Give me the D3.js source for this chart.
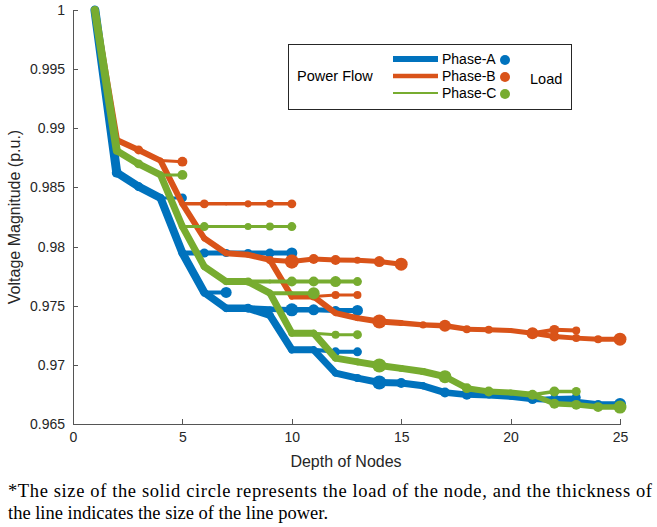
<!DOCTYPE html>
<html>
<head>
<meta charset="utf-8">
<script src="https://cdn.jsdelivr.net/npm/d3@7"></script>
<style>
body { margin: 0; background: #fff; }
</style>
</head>
<body>
<script>
var W = 657, H = 527;

var xTicks = [0, 5, 10, 15, 20, 25];
var yTicks = [0.965, 0.97, 0.975, 0.98, 0.985, 0.99, 0.995, 1];
var phaseNames = ["Phase-A", "Phase-B", "Phase-C"];
var phaseColors = ["#0072BD", "#D95319", "#77AC30"];
var legendPower = [60, 45, 20];

// each branch: d0 = start depth, v = voltage per depth, p = line power per segment, load = node load
var branchesA = [
  {d0: 1, v: [1.0000, 0.98625, 0.98507, 0.98411, 0.97946, 0.97612, 0.97479, 0.97479, 0.97420, 0.97127, 0.97127, 0.96930, 0.96888, 0.96851, 0.96846, 0.96823, 0.96766, 0.96747, 0.96740, 0.96730, 0.96710, 0.96700, 0.96690, 0.96670, 0.96670],
   p: [90, 80, 80, 80, 80, 75, 75, 75, 75, 70, 70, 70, 70, 70, 70, 70, 65, 60, 60, 60, 55, 55, 55, 55],
   load: [0, 62, 56, 0, 0, 0, 0, 56, 0, 0, 0, 0, 50, 88, 62, 44, 62, 62, 0, 0, 62, 0, 0, 50, 75]},
  {d0: 4, v: [0.98411, 0.98411], p: [30], load: [0, 56]},
  {d0: 5, v: [0.97946, 0.97946, 0.97946, 0.97946, 0.97946, 0.97946], p: [50, 50, 50, 50, 50], load: [0, 56, 50, 50, 56, 69]},
  {d0: 6, v: [0.97612, 0.97612], p: [40], load: [0, 69]},
  {d0: 8, v: [0.97479, 0.97470, 0.97465, 0.97465, 0.97460, 0.97460], p: [60, 55, 55, 50, 50], load: [0, 0, 81, 69, 56, 69]},
  {d0: 11, v: [0.97127, 0.97110, 0.97110], p: [40, 40], load: [0, 56, 56]},
  {d0: 21, v: [0.96710, 0.96720, 0.96725], p: [40, 40], load: [0, 50, 56]}
];

var branchesB = [
  {d0: 1, v: [1.0000, 0.98901, 0.98817, 0.98727, 0.98361, 0.98070, 0.97943, 0.97930, 0.97887, 0.97577, 0.97577, 0.97437, 0.97395, 0.97367, 0.97353, 0.97338, 0.97330, 0.97302, 0.97296, 0.97290, 0.97268, 0.97239, 0.97226, 0.97217, 0.97217],
   p: [65, 60, 60, 60, 60, 60, 60, 60, 60, 60, 60, 60, 60, 60, 55, 55, 55, 50, 50, 50, 50, 50, 50, 50],
   load: [0, 0, 56, 0, 0, 0, 0, 0, 50, 0, 50, 0, 0, 88, 0, 44, 75, 50, 50, 0, 75, 62, 50, 50, 81]},
  {d0: 4, v: [0.98727, 0.98718], p: [30], load: [0, 62]},
  {d0: 5, v: [0.98361, 0.98361, 0.98361, 0.98361, 0.98361, 0.98361], p: [35, 35, 35, 35, 35], load: [0, 56, 0, 44, 50, 56]},
  {d0: 9, v: [0.97887, 0.97873, 0.97895, 0.97887, 0.97885, 0.97873, 0.97851], p: [50, 50, 50, 50, 50, 50], load: [0, 88, 62, 62, 44, 69, 81]},
  {d0: 11, v: [0.97577, 0.97590, 0.97590], p: [30, 30], load: [0, 50, 50]},
  {d0: 21, v: [0.97268, 0.97296, 0.97290], p: [40, 40], load: [0, 62, 50]}
];

var branchesC = [
  {d0: 1, v: [1.0000, 0.98811, 0.98699, 0.98606, 0.98169, 0.97831, 0.97704, 0.97704, 0.97606, 0.97268, 0.97268, 0.97057, 0.97025, 0.96995, 0.96970, 0.96944, 0.96900, 0.96803, 0.96775, 0.96766, 0.96747, 0.96671, 0.96662, 0.96643, 0.96643],
   p: [80, 70, 70, 70, 70, 70, 70, 70, 70, 70, 70, 70, 70, 70, 70, 70, 65, 60, 60, 60, 55, 55, 55, 55],
   load: [0, 0, 56, 0, 0, 0, 0, 50, 0, 0, 0, 0, 0, 88, 0, 44, 81, 62, 62, 0, 62, 62, 62, 62, 81]},
  {d0: 4, v: [0.98606, 0.98606], p: [30], load: [0, 62]},
  {d0: 5, v: [0.98169, 0.98169, 0.98169, 0.98169, 0.98169, 0.98169], p: [30, 30, 30, 30, 30], load: [0, 56, 0, 44, 50, 56]},
  {d0: 8, v: [0.97704, 0.97704, 0.97704, 0.97704, 0.97704, 0.97704], p: [40, 40, 40, 40, 40], load: [0, 0, 62, 62, 69, 56]},
  {d0: 9, v: [0.97606, 0.97606, 0.97606], p: [40, 40], load: [0, 0, 75]},
  {d0: 11, v: [0.97268, 0.97255, 0.97255], p: [30, 30], load: [0, 50, 56]},
  {d0: 14, v: [0.96995, 0.96975], p: [15], load: [0, 31]},
  {d0: 21, v: [0.96747, 0.96775, 0.96775], p: [35, 35], load: [0, 62, 56]}
];

var captionLines = [
  "*The size of the solid circle represents the load of the node, and the thickness of",
  "the line indicates the size of the line power."
];

var x = d3.scaleLinear().domain([0, 25]).range([73, 620]);
var y = d3.scaleLinear().domain([0.965, 1]).range([424, 10]);
var widthScale = d3.scaleLinear().domain([0, 100]).range([0, 10]);
var rScale = d3.scaleLinear().domain([0, 100]).range([0, 8]);

var svg = d3.select("body").append("svg")
  .attr("width", W)
  .attr("height", H)
  .style("display", "block")
  .style("font-family", "'Liberation Sans', Arial, sans-serif");

// axes
var xAxis = svg.append("g")
  .attr("transform", "translate(0,424)")
  .call(d3.axisBottom(x).tickValues(xTicks).tickSizeInner(-5).tickSizeOuter(0).tickPadding(8).tickFormat(d3.format("d")));
var yAxis = svg.append("g")
  .attr("transform", "translate(73,0)")
  .call(d3.axisLeft(y).tickValues(yTicks).tickSizeInner(-5).tickSizeOuter(0).tickPadding(8).tickFormat(function(d) { return String(+d.toFixed(3)); }));

[xAxis, yAxis].forEach(function(a) {
  a.select(".domain").attr("stroke", "#555").attr("shape-rendering", "crispEdges");
  a.selectAll(".tick line").attr("stroke", "#555").attr("shape-rendering", "crispEdges");
  a.selectAll(".tick text").attr("fill", "#262626").style("font-size", "14px").style("font-family", "'Liberation Sans', Arial, sans-serif");
});

svg.append("text")
  .attr("x", 346).attr("y", 467)
  .attr("text-anchor", "middle")
  .attr("fill", "#262626")
  .style("font-size", "16px")
  .text("Depth of Nodes");

svg.append("text")
  .attr("transform", "translate(20,217) rotate(-90)")
  .attr("text-anchor", "middle")
  .attr("fill", "#262626")
  .style("font-size", "16px")
  .text("Voltage Magnitude (p.u.)");

// branches
var plot = svg.append("g");
[branchesA, branchesB, branchesC].forEach(function(branches, k) {
  var g = plot.append("g");
  var segs = [], nodes = [];
  branches.forEach(function(b) {
    var pts = b.v.map(function(v, i) { return {d: b.d0 + i, v: v, load: b.load[i]}; });
    d3.pairs(pts).forEach(function(pr, i) { segs.push({a: pr[0], b: pr[1], pw: b.p[i]}); });
    pts.forEach(function(p) { if (p.load > 0) nodes.push(p); });
  });
  g.selectAll("line").data(segs).enter().append("line")
    .attr("x1", function(s) { return x(s.a.d); })
    .attr("y1", function(s) { return y(s.a.v); })
    .attr("x2", function(s) { return x(s.b.d); })
    .attr("y2", function(s) { return y(s.b.v); })
    .attr("stroke", phaseColors[k])
    .attr("stroke-width", function(s) { return widthScale(s.pw); })
    .attr("stroke-linecap", "round");
  g.selectAll("circle").data(nodes).enter().append("circle")
    .attr("cx", function(p) { return x(p.d); })
    .attr("cy", function(p) { return y(p.v); })
    .attr("r", function(p) { return rScale(p.load); })
    .attr("fill", phaseColors[k]);
});

// legend
var lg = svg.append("g");
lg.append("rect")
  .attr("x", 288.5).attr("y", 44.5).attr("width", 283).attr("height", 65)
  .attr("fill", "#fff").attr("stroke", "#262626").attr("stroke-width", 1);
lg.append("text").attr("x", 297).attr("y", 81).attr("fill", "#000")
  .style("font-size", "14.5px").text("Power Flow");
lg.append("text").attr("x", 530).attr("y", 84).attr("fill", "#000")
  .style("font-size", "14.5px").text("Load");
phaseNames.forEach(function(name, i) {
  var cy = 59 + i * 17;
  lg.append("line")
    .attr("x1", 393).attr("x2", 438).attr("y1", cy).attr("y2", cy)
    .attr("stroke", phaseColors[i]).attr("stroke-width", widthScale(legendPower[i]));
  lg.append("text").attr("x", 442).attr("y", cy + 5).attr("fill", "#000")
    .style("font-size", "14px").text(name);
  lg.append("circle").attr("cx", 505).attr("cy", cy + 1).attr("r", 5)
    .attr("fill", phaseColors[i]);
});

// caption
svg.append("text")
  .attr("x", 8).attr("y", 497)
  .attr("textLength", 644).attr("lengthAdjust", "spacing")
  .style("font-family", "'Liberation Serif', 'Times New Roman', serif")
  .style("font-size", "18.5px")
  .text(captionLines[0]);
svg.append("text")
  .attr("x", 8).attr("y", 519)
  .style("font-family", "'Liberation Serif', 'Times New Roman', serif")
  .style("font-size", "18.5px")
  .text(captionLines[1]);
</script>
</body>
</html>
